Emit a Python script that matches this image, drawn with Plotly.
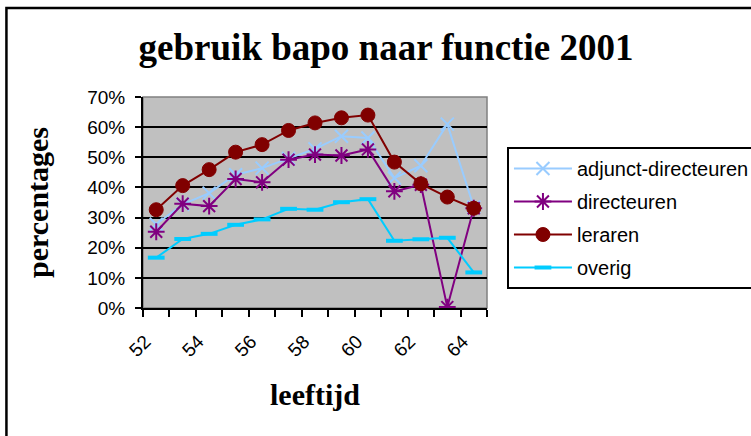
import plotly.graph_objects as go

ages = [52, 53, 54, 55, 56, 57, 58, 59, 60, 61, 62, 63, 64]
age_tick_labels = ["52", "54", "56", "58", "60", "62", "64"]
age_tick_vals = [52, 54, 56, 58, 60, 62, 64]

adjunct_directeuren = [27.8, 34.4, 38.1, 44.2, 46.4, 49.6, 52.8, 57.0, 56.4, 43.1, 47.2, 61.0, 33.5]
directeuren = [25.3, 34.6, 33.8, 42.8, 41.7, 49.2, 50.9, 50.6, 52.6, 38.7, 40.9, 0.3, 33.1]
leraren = [32.6, 40.6, 45.9, 51.7, 54.2, 58.9, 61.4, 63.1, 64.0, 48.4, 41.2, 36.8, 33.1]
overig = [16.7, 22.9, 24.6, 27.6, 29.4, 32.9, 32.6, 35.1, 36.1, 22.3, 22.8, 23.3, 11.8]

series = [
    ("adjunct-directeuren", adjunct_directeuren, "#99CCFF", "x-thin-open", 13, 2),
    ("directeuren", directeuren, "#800080", "asterisk-open", 14, 2),
    ("leraren", leraren, "#800000", "circle", 14, 1),
    ("overig", overig, "#00CCFF", "line-ew-open", 12, 4),
]

fig = go.Figure()
for name, vals, color, sym, size, mlw in series:
    fig.add_trace(go.Scatter(
        x=ages, y=vals, name=name, mode="lines+markers",
        legendgroup=name,
        line=dict(color=color, width=2),
        marker=dict(symbol=sym, size=size, color=color,
                    line=dict(color=color, width=mlw)),
    ))

fig.update_layout(
    width=751, height=436,
    margin=dict(l=143, r=264, t=97, b=128, autoexpand=False),
    paper_bgcolor="white",
    plot_bgcolor="#C0C0C0",
    title=dict(text="<b>gebruik bapo naar functie 2001</b>",
               font=dict(family="Liberation Serif", size=37, color="black"),
               x=0.514, xanchor="center", y=0.892, yanchor="middle"),
    font=dict(family="Liberation Sans", color="black"),
    legend=dict(x=1.058, y=0.763, xanchor="left", yanchor="top",
                bordercolor="black", borderwidth=2, bgcolor="white",
                font=dict(family="Liberation Sans", size=20),
                itemwidth=58, tracegroupgap=4),
    showlegend=True,
)

fig.update_xaxes(
    range=[51.5, 64.5],
    tickmode="array", tickvals=age_tick_vals, ticktext=age_tick_labels,
    ticks="", tickangle=-45, ticklabelstandoff=13, ticklabelshift=-11,
    tickfont=dict(family="Liberation Sans", size=19),
    showgrid=False, zeroline=False,
    showline=True, linecolor="black", linewidth=2,
    minor=dict(tick0=51.5, dtick=1, ticks="outside", ticklen=7,
               tickcolor="black", tickwidth=2, showgrid=False),
    title=dict(text="<b>leeftijd</b>",
               font=dict(family="Liberation Serif", size=30), standoff=24),
)
fig.update_yaxes(
    range=[0, 70], dtick=10, ticksuffix="%",
    ticks="outside", ticklen=6, tickcolor="black", tickwidth=2,
    ticklabelstandoff=6,
    tickfont=dict(family="Liberation Sans", size=19),
    showgrid=True, gridcolor="black", gridwidth=2,
    zeroline=False,
    showline=True, linecolor="black", linewidth=2,
    title=dict(text="<b>percentages</b>",
               font=dict(family="Liberation Serif", size=30), standoff=30),
)

# plot-area border (gray) and outer chart border (black)
fig.add_shape(type="rect", xref="paper", yref="paper", x0=0, x1=1, y0=0, y1=1,
              line=dict(color="#808080", width=1.5), layer="below")
fig.add_shape(type="rect", xref="paper", yref="paper",
              x0=-0.397, x1=1.8, y0=-0.7, y1=1.4218,
              line=dict(color="black", width=2.5))

fig.write_html("out.html", config={"displayModeBar": False},
               post_script="document.body.style.margin='0px';")
